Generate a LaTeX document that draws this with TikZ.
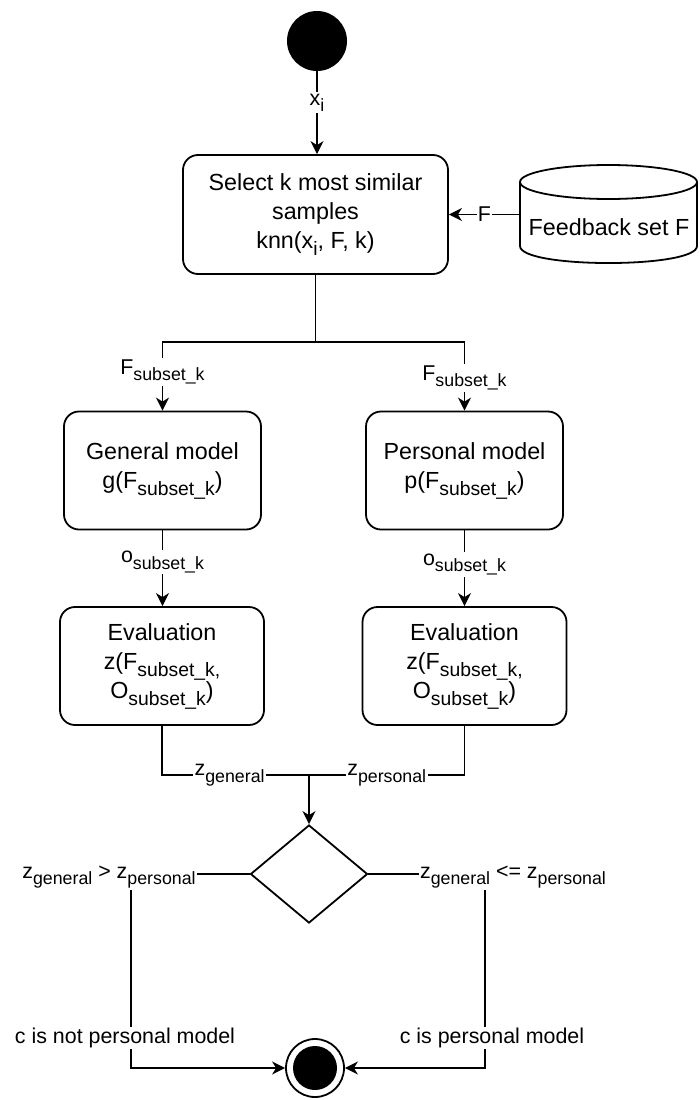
\documentclass[tikz,border=0pt]{standalone}
\usepackage{fontspec}
\setmainfont{Liberation Sans}
\usetikzlibrary{arrows.meta,shapes.geometric,calc}
\newcommand\sbs[1]{\raisebox{-0.3em}{\scalebox{0.83}{#1}}}
\newcommand\ndfont{\fontsize{23.3}{29}\selectfont}
\newcommand\edfont{\fontsize{21.4}{25}\selectfont}
\begin{document}
\begin{tikzpicture}[x=1pt,y=-1pt,
  box/.style={draw, rounded corners=15pt, line width=1.8pt, align=center, font=\ndfont, inner sep=2pt},
  wire/.style={line width=1.8pt},
  arr/.style={wire, -{Stealth[length=13pt,width=13pt,inset=4pt]}},
  lbl/.style={fill=white, inner sep=1.5pt, font=\edfont}]
\useasboundingbox (0,0) rectangle (699,1100);
% start
\node[circle, fill=black, minimum size=60pt, inner sep=0] (start) at (317,41) {};
% select box
\node[box, minimum width=265pt, minimum height=119pt] (sel) at (315.5,214.5)
  {Select k most similar\\samples\\knn(x\sbs{i}, F, k)};
% feedback cylinder
\draw[wire] (520,182) -- (520,246) .. controls (520,268.7) and (697,268.7) .. (697,246) -- (697,182);
\draw[wire] (608.5,182) ellipse[x radius=88.5, y radius=17];
\node[font=\ndfont, inner sep=0] (fb) at (609,227) {Feedback set F};
\coordinate (fbw) at (520,214.5);
\draw[arr] (fbw) -- node[lbl, inner sep=1pt]{F} (sel.east |- fbw);
\draw[arr] (start.south) -- node[lbl, pos=0.38]{x\sbs{i}} (start.south |- sel.north);
% model boxes
\node[box, minimum width=197pt, minimum height=118pt] (gen) at (162.5,470.5)
  {General model\\g(F\sbs{subset\_k})};
\node[box, minimum width=197pt, minimum height=118pt] (per) at (464.5,470.5)
  {Personal model\\p(F\sbs{subset\_k})};
\coordinate (split) at (sel.south |- 0,342);
\draw[wire] (sel.south) -- (split);
\draw[arr] (split) -| node[lbl, pos=0.72]{F\sbs{subset\_k}} (gen.north);
\draw[arr] (split) -| node[lbl, pos=0.76]{F\sbs{subset\_k}} (per.north);
% evaluation boxes
\node[box, minimum width=204pt, minimum height=118pt] (gev) at (162,666)
  {Evaluation\\z(F\sbs{subset\_k,}\\O\sbs{subset\_k})};
\node[box, minimum width=204pt, minimum height=118pt] (pev) at (464.5,666)
  {Evaluation\\z(F\sbs{subset\_k,}\\O\sbs{subset\_k})};
\draw[arr] (gen.south) -- node[lbl, pos=0.42]{o\sbs{subset\_k}} (gen.south |- gev.north);
\draw[arr] (per.south) -- node[lbl, pos=0.45]{o\sbs{subset\_k}} (per.south |- pev.north);
% join and decision
\node[diamond, draw, line width=1.8pt, minimum width=117pt, minimum height=98pt, aspect=1.2, inner sep=0] (dia) at (309,874) {};
\coordinate (join) at (309,775);
\draw[wire] (gev.south) |- node[lbl, pos=0.73]{z\sbs{general}} (join);
\draw[wire] (pev.south) |- node[lbl, pos=0.75]{z\sbs{personal}} (join);
\draw[arr] (join) -- (dia.north);
% end
\node[circle, draw, line width=1.8pt, fill=white, minimum size=58pt, inner sep=0] (endc) at (315,1068) {};
\fill (endc.center) circle (22pt);
\coordinate (lc) at (131,874);
\coordinate (lb) at (131,1068);
\coordinate (rc) at (485,874);
\coordinate (rb) at (485,1068);
\draw[arr] (dia.west) -- (lc) -- (lb) -- (endc.west);
\draw[arr] (dia.east) -- (rc) -- (rb) -- (endc.east);
\node[lbl] (lcond) at (109,877) {z\sbs{general} > z\sbs{personal}};
\node[lbl] (rcond) at (513,877) {z\sbs{general} <= z\sbs{personal}};
\node[lbl] (lres) at (125,1038) {c is not personal model};
\node[lbl] (rres) at (492,1038) {c is personal model};
\end{tikzpicture}
\end{document}
